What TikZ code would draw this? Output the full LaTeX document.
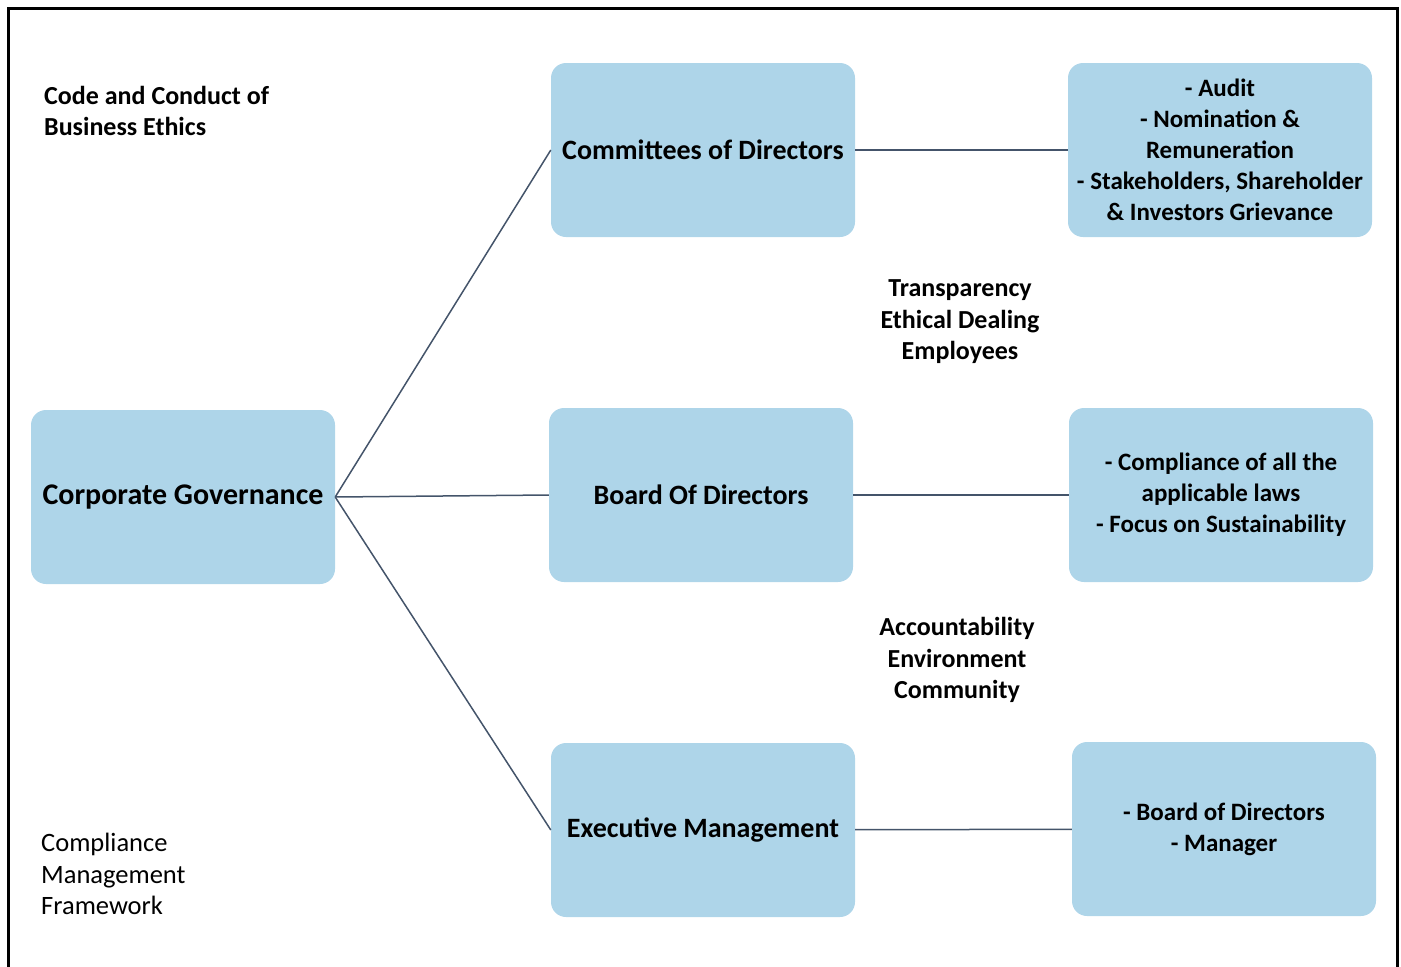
\documentclass[tikz,border=0pt]{standalone}
\usepackage{fontspec}
\setmainfont{Carlito}
\usepackage{xcolor}
\usetikzlibrary{positioning}
\definecolor{boxblue}{RGB}{174,213,233}
\definecolor{linkgray}{RGB}{68,84,106}

\begin{document}
\begin{tikzpicture}[x=1pt, y=-1pt,
		box/.style={fill=boxblue, rounded corners=15pt, minimum width=304pt, minimum height=174pt, align=center, inner sep=0pt, font=\bfseries\fontsize{25}{31}\selectfont},
		big/.style={font=\bfseries\fontsize{28}{34}\selectfont},
		note/.style={align=center, inner sep=0pt, font=\bfseries\fontsize{26}{31.5}\selectfont},
		link/.style={draw=linkgray, line width=1.5pt}]
	\useasboundingbox (0,0) rectangle (1401,967);
	% cadre
	\draw [line width=3pt] (8,968) -- (8,8) -- (1397,8) -- (1397,968);
	
	% blocs principaux
	\node [box, font=\bfseries\fontsize{30}{36}\selectfont] (cg) at (183,497) {Corporate Governance};
	\node [box, big] (cod) at (703,150) {Committees of Directors};
	\node [box, big] (bod) at (701,495) {Board Of Directors};
	\node [box, big] (em) at (703,830) {Executive Management};
	
	% blocs de droite
	\node [box] (codr) at (1220,150) {- Audit\\- Nomination \&\\Remuneration\\- Stakeholders, Shareholder\\\& Investors Grievance};
	\node [box] (bodr) at (1221,495) {- Compliance of all the\\applicable laws\\- Focus on Sustainability};
	\node [box] (emr) at (1224,829) {- Board of Directors\\- Manager};
	
	% textes libres
	\node [note, align=left, anchor=west] (ethics) at (44,111) {Code and Conduct of\\Business Ethics};
	\node [note, align=left, anchor=west, font=\fontsize{26.5}{31.5}\selectfont] (cmf) at (41,874) {Compliance\\Management\\Framework};
	\node [note] (tee) at (960,322) {Transparency\\Ethical Dealing\\Employees};
	\node [note] (aec) at (957,660) {Accountability\\Environment\\Community};
	
	% liaisons
	\draw [link] (cg.east) -- (cod.west);
	\draw [link] (cg.east) -- (bod.west);
	\draw [link] (cg.east) -- (em.west);
	\draw [link] (cod) -- (codr);
	\draw [link] (bod) -- (bodr);
	\draw [link] (em) -- (emr);
\end{tikzpicture}
\end{document}
